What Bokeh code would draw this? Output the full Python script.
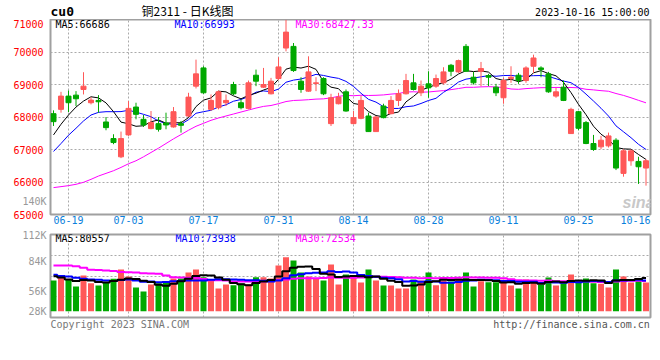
import numpy as np
import pandas as pd
from bokeh.plotting import figure
from bokeh.layouts import column
from bokeh.models import Range1d, FixedTicker, Label, ColumnDataSource, LinearAxis
from bokeh.core.properties import value
from bokeh.embed import file_html
from bokeh.resources import INLINE

# ---------------- data ----------------
dates = ["06-15", "06-16", "06-19", "06-20", "06-21", "06-26", "06-27", "06-28", "06-29", "06-30",
         "07-03", "07-04", "07-05", "07-06", "07-07", "07-10", "07-11", "07-12", "07-13", "07-14",
         "07-17", "07-18", "07-19", "07-20", "07-21", "07-24", "07-25", "07-26", "07-27", "07-28",
         "07-31", "08-01", "08-02", "08-03", "08-04", "08-07", "08-08", "08-09", "08-10", "08-11",
         "08-14", "08-15", "08-16", "08-17", "08-18", "08-21", "08-22", "08-23", "08-24", "08-25",
         "08-28", "08-29", "08-30", "08-31", "09-01", "09-04", "09-05", "09-06", "09-07", "09-08",
         "09-11", "09-12", "09-13", "09-14", "09-15", "09-18", "09-19", "09-20", "09-21", "09-22",
         "09-25", "09-26", "09-27", "09-28", "10-09", "10-10", "10-11", "10-12", "10-13", "10-16"]

opens = [68102, 68235, 68643, 68673, 68847, 68439, 68510, 67847, 67337, 66775,
         67449, 68306, 67929, 67643, 67796, 67816, 67694, 67796, 68031, 68949,
         69510, 68235, 68286, 68439, 69000, 68439, 68265, 69286, 68918, 68714,
         69184, 70122, 70173, 69102, 68796, 69031, 69184, 67796, 68408, 68775,
         67796, 67959, 68031, 67551, 68337, 68102, 68510, 68714, 69051, 68745,
         69020, 68949, 69051, 69592, 69388, 70173, 69224, 69408, 69275, 68918,
         68592, 69184, 69286, 69122, 69561, 69510, 69326, 68643, 68918, 67490,
         68163, 67827, 67184, 67082, 67112, 67286, 66265, 66653, 66633, 66429]
highs = [68204, 68775, 68816, 68796, 69378, 68612, 68673, 68000, 67469, 67551,
         68490, 68439, 68061, 68184, 68000, 68133, 68306, 67878, 68745, 69765,
         69561, 68694, 68816, 68694, 69082, 68541, 69122, 69459, 69510, 69204,
         69837, 70990, 70276, 69224, 69867, 69224, 69224, 68714, 68745, 68847,
         68184, 68643, 68133, 68031, 68408, 68643, 68847, 69327, 69327, 69122,
         69408, 69306, 69531, 69633, 69765, 70245, 69388, 69694, 69327, 69020,
         69204, 69561, 69357, 69561, 69918, 69561, 69388, 68898, 69122, 68286,
         68184, 67878, 67449, 67418, 67520, 67347, 67010, 67010, 66776, 66704]
lows = [67724, 68133, 68153, 68337, 68694, 68388, 68133, 67592, 67163, 66735,
        67418, 67929, 67694, 67622, 67551, 67622, 67673, 67520, 68000, 68878,
        68714, 68184, 68235, 68337, 68673, 68235, 68235, 68949, 68898, 68694,
        69133, 70020, 69388, 68745, 68775, 68796, 68673, 67724, 68388, 68163,
        67776, 67929, 67551, 67551, 67959, 68082, 68337, 68694, 68816, 68643,
        68592, 68898, 69000, 69255, 69357, 69388, 69000, 68949, 68949, 68643,
        68408, 69051, 69020, 69051, 69357, 69224, 68745, 68592, 68490, 67490,
        67592, 67163, 66959, 67010, 67061, 66367, 66163, 66500, 65941, 65888]
closes = [67857, 68643, 68439, 68561, 68949, 68520, 68469, 67673, 67214, 67337,
          68265, 68082, 67755, 67827, 67622, 67755, 68163, 67745, 68612, 69327,
          68745, 68510, 68775, 68510, 68714, 68286, 69051, 69102, 69000, 69102,
          69541, 70612, 69429, 68847, 69388, 69051, 68714, 68592, 68612, 68184,
          67980, 68510, 67551, 68000, 67980, 68510, 68714, 69122, 68847, 68949,
          68898, 69184, 69388, 69408, 69735, 69408, 69051, 69490, 69224, 68745,
          69122, 69224, 69122, 69510, 69816, 69459, 68775, 68775, 68510, 68235,
          67653, 67184, 67000, 67286, 67418, 66429, 66959, 66959, 66469, 66653]
volumes = [74400, 81000, 76100, 59900, 86600, 67900, 62300, 70300, 78600, 101100,
           84100, 57500, 47800, 64700, 67900, 72000, 79300, 79300, 93800, 101100,
           82400, 76900, 55000, 64700, 63000, 67200, 65500, 82400, 82400, 79300,
           110800, 131000, 122900, 93800, 84100, 79300, 74400, 113200, 64700, 89000,
           85800, 69600, 101100, 74400, 62300, 62300, 55000, 55000, 76900, 74400,
           93800, 63000, 74400, 72000, 79300, 93800, 59900, 72800, 70300, 70300,
           76100, 62300, 55000, 76900, 74400, 64700, 81700, 62300, 67900, 89000,
           70300, 79300, 67900, 66400, 57500, 101100, 84100, 69600, 76900, 69600]

ma5_head = [67449, 67776, 68061, 68306]
ma10_head = [66939, 67184, 67439, 67653, 67878, 68061, 68143, 68163, 68163]
ma30_head = [65827, 65857, 65888, 65929, 65990, 66082, 66184, 66265, 66347, 66449,
             66561, 66653, 66775, 66908, 67041, 67184, 67327, 67459, 67592, 67714,
             67806, 67898, 67969, 68031, 68092, 68153, 68214, 68275, 68326]
vma5_head = [84900, 81700, 76900, 73200]
vma10_head = [88300, 85400, 84100, 81000, 78600, 76900, 76100, 74400, 73200]
vma30_head = [110800, 110800, 110800, 109100, 105200, 100400, 99900, 98700, 97500, 95100,
              94600, 93800, 92200, 91400, 90700, 86600, 82500, 81700, 81000, 81000,
              78100, 75200, 75200, 74400, 72000, 72000, 72000, 72000, 72000]

price_ticks = [65000, 66000, 67000, 68000, 69000, 70000, 71000]
date_labels = ["06-19", "07-03", "07-17", "07-31", "08-14", "08-28", "09-11", "09-25", "10-16"]
vol_labels = ["112K", "84K", "56K", "28K"]
side_vol_label = "140K"
ma_texts = ["MA5:66686", "MA10:66993", "MA30:68427.33"]
vol_ma_texts = ["MA5:80557", "MA10:73938", "MA30:72534"]
header_code = "cu0"
header_title = "铜2311 - 日K线图"
header_time = "2023-10-16 15:00:00"
footer_left = "Copyright 2023 SINA.COM"
footer_right = "http://finance.sina.com.cn"

# ---------------- styling ----------------
RED = "#ff5858"
GREEN = "#00a800"
BLUE = "#0000ff"
MAG = "#ff00ff"
GRID = "#aaaaaa"
FRAME = "#a0a0a0"
MONO = "DejaVu Sans Mono"
W = 658            # figure width
FL, FR = 50, 8     # left / right borders -> 600 px frame
HDR_H = 19

n = len(closes)
x = np.arange(n)
o = np.array(opens, float)
h = np.array(highs, float)
l = np.array(lows, float)
c = np.array(closes, float)
vol = np.array(volumes, float)
colors = np.where(c >= o, RED, GREEN)


def moving_avg(series, w, head):
    s = pd.Series(series, dtype=float).rolling(w).mean().to_numpy()
    s[: w - 1] = head
    return s


src = ColumnDataSource(dict(
    x=x, o=o, h=h, l=l, c=c, top=np.maximum(o, c), bottom=np.minimum(o, c),
    color=colors, vol=vol,
    ma5=moving_avg(c, 5, ma5_head), ma10=moving_avg(c, 10, ma10_head), ma30=moving_avg(c, 30, ma30_head),
    vma5=moving_avg(vol, 5, vma5_head), vma10=moving_avg(vol, 10, vma10_head), vma30=moving_avg(vol, 30, vma30_head),
))

label_pos = [dates.index(d) for d in date_labels]
grid_pos = label_pos[:-1]
label_pos[-1] = label_pos[-1] - 1.4  # keep the last date inside the frame

x_range = Range1d(-0.4, n - 0.4)


def style_axis(ax, color, standoff):
    ax.axis_line_color = None
    ax.major_tick_line_color = None
    ax.minor_tick_line_color = None
    ax.major_tick_out = 0
    ax.major_tick_in = 0
    ax.major_label_standoff = standoff
    ax.major_label_text_color = color
    ax.major_label_text_font = MONO
    ax.major_label_text_font_size = "10px"


def style_grid(fig, xt, yt):
    for g in (fig.xgrid, fig.ygrid):
        g.grid_line_color = GRID
        g.grid_line_dash = "2 2"
        g.grid_line_width = 1
    fig.xgrid.ticker = FixedTicker(ticks=xt)
    fig.ygrid.ticker = FixedTicker(ticks=yt)


def text_strip(height):
    # x is measured in page pixels; the frame lines up with the chart frames below
    f = figure(width=W, height=height, x_range=Range1d(FL, W - FR), y_range=Range1d(height, 0),
               output_backend="svg", toolbar_location=None, title=None,
               x_axis_location=None, y_axis_location=None,
               min_border_left=FL, min_border_right=FR, min_border_top=0, min_border_bottom=0)
    f.outline_line_color = None
    f.grid.visible = False
    f.background_fill_color = "white"
    f.border_fill_color = "white"
    return f


def add_label(fig, xs, ys, text, color="black", size="10px", font=MONO, align="left", style="normal"):
    fig.add_layout(Label(x=xs, y=ys, x_units="screen", y_units="screen", text=text,
                         text_color=color, text_font=font, text_font_size=size,
                         text_font_style=style, text_align=align, text_baseline="middle"))


# ---------------- header strip ----------------
hdr = text_strip(HDR_H)
hdr.text(x=[50], y=[11.4], text=[header_code], text_font=value(MONO), text_font_size="13px",
         text_font_style="bold", text_baseline="middle", text_color="black")
hdr.text(x=[141], y=[10.2], text=[header_title], text_font=value("Noto Sans CJK SC"), text_font_size="12px",
         text_baseline="middle", text_color="black")
hdr.text(x=[649], y=[11.7], text=[header_time], text_font=value(MONO), text_font_size="10px",
         text_baseline="middle", text_align="right", text_color="black")

# ---------------- main (price) panel ----------------
p = figure(width=W, height=209, x_range=x_range, y_range=Range1d(price_ticks[0], price_ticks[-1]),
           output_backend="svg", toolbar_location=None, title=None,
           min_border_left=FL, min_border_right=FR, min_border_top=0, min_border_bottom=14)
p.outline_line_color = FRAME
p.outline_line_width = 2
p.background_fill_color = "white"
p.border_fill_color = "white"
style_grid(p, grid_pos, price_ticks[1:-1])

# inner left axis: the grey volume-scale mark of the price panel
ya = p.yaxis[0]
ya.ticker = FixedTicker(ticks=[65410])
ya.major_label_overrides = {65410: side_vol_label}
style_axis(ya, "#999999", 4)
# outer left axis: the red price scale, pulled back under the inner one
pa = LinearAxis(ticker=FixedTicker(ticks=price_ticks),
                major_label_overrides={t: str(t) for t in price_ticks})
style_axis(pa, "#ff0000", -24)
p.add_layout(pa, "left")

xa = p.xaxis[0]
xa.ticker = FixedTicker(ticks=label_pos)
xa.major_label_overrides = {pos: d for pos, d in zip(label_pos, date_labels)}
style_axis(xa, "#0a7fdc", 1)

p.line("x", "ma30", source=src, color=MAG, line_width=1)
p.line("x", "ma10", source=src, color=BLUE, line_width=1)
p.line("x", "ma5", source=src, color="black", line_width=1)
p.segment(x0="x", y0="h", x1="x", y1="l", source=src, color="color", line_width=1)
p.vbar(x="x", top="top", bottom="bottom", width=0.667, source=src,
       fill_color="color", line_color="color", line_width=1)

for xs, txt, col in zip([5, 124, 245], ma_texts, ["black", BLUE, MAG]):
    add_label(p, xs, 190, txt, color=col)
add_label(p, 572, 12.5, "sina", color="#c8c8c8", font="Liberation Sans", size="16px", style="bold italic")

# ---------------- volume panel ----------------
VPX = 2425.0          # volume per pixel
BASE_Y = 310.7        # page y of zero volume
TOP_Y, BOT_Y = 234.0, 317.0
vhi = (BASE_Y - TOP_Y) * VPX
vlo = (BASE_Y - BOT_Y) * VPX

v = figure(width=W, height=91, x_range=x_range, y_range=Range1d(vlo, vhi),
           output_backend="svg", toolbar_location=None, title=None, x_axis_location=None,
           min_border_left=FL, min_border_right=FR, min_border_top=6, min_border_bottom=2)
v.outline_line_color = FRAME
v.outline_line_width = 2
v.background_fill_color = "white"
v.border_fill_color = "white"
style_grid(v, grid_pos, [vlo + k * (vhi - vlo) / 4 for k in (1, 2, 3)])

label_y = [TOP_Y + 0.5, 261.0, 290.7, 310.7]   # page y of the 112K / 84K / 56K / 28K labels
vt = [(BASE_Y - yy) * VPX for yy in label_y]
vya = v.yaxis[0]
vya.ticker = FixedTicker(ticks=vt)
vya.major_label_overrides = {t: s for t, s in zip(vt, vol_labels)}
style_axis(vya, "#999999", 4)

v.vbar(x="x", top="vol", bottom=0, width=0.8, source=src, fill_color="color", line_color=None)
v.step("x", "vma30", source=src, mode="center", color=MAG, line_width=2)
v.step("x", "vma10", source=src, mode="center", color=BLUE, line_width=2)
v.step("x", "vma5", source=src, mode="center", color="black", line_width=2)

for xs, txt, col in zip([5, 125, 245], vol_ma_texts, ["black", BLUE, MAG]):
    add_label(v, xs, 79, txt, color=col)

# ---------------- footer strip ----------------
ftr = text_strip(12)
ftr.text(x=[50], y=[4.7], text=[footer_left], text_font=value(MONO), text_font_size="10px",
         text_baseline="middle", text_color="#777777")
ftr.text(x=[649.3], y=[4.7], text=[footer_right], text_font=value(MONO), text_font_size="10px",
         text_baseline="middle", text_align="right", text_color="#555555")

layout = column(hdr, p, v, ftr, spacing=0)
open("out.html", "w").write(file_html(layout, INLINE))
